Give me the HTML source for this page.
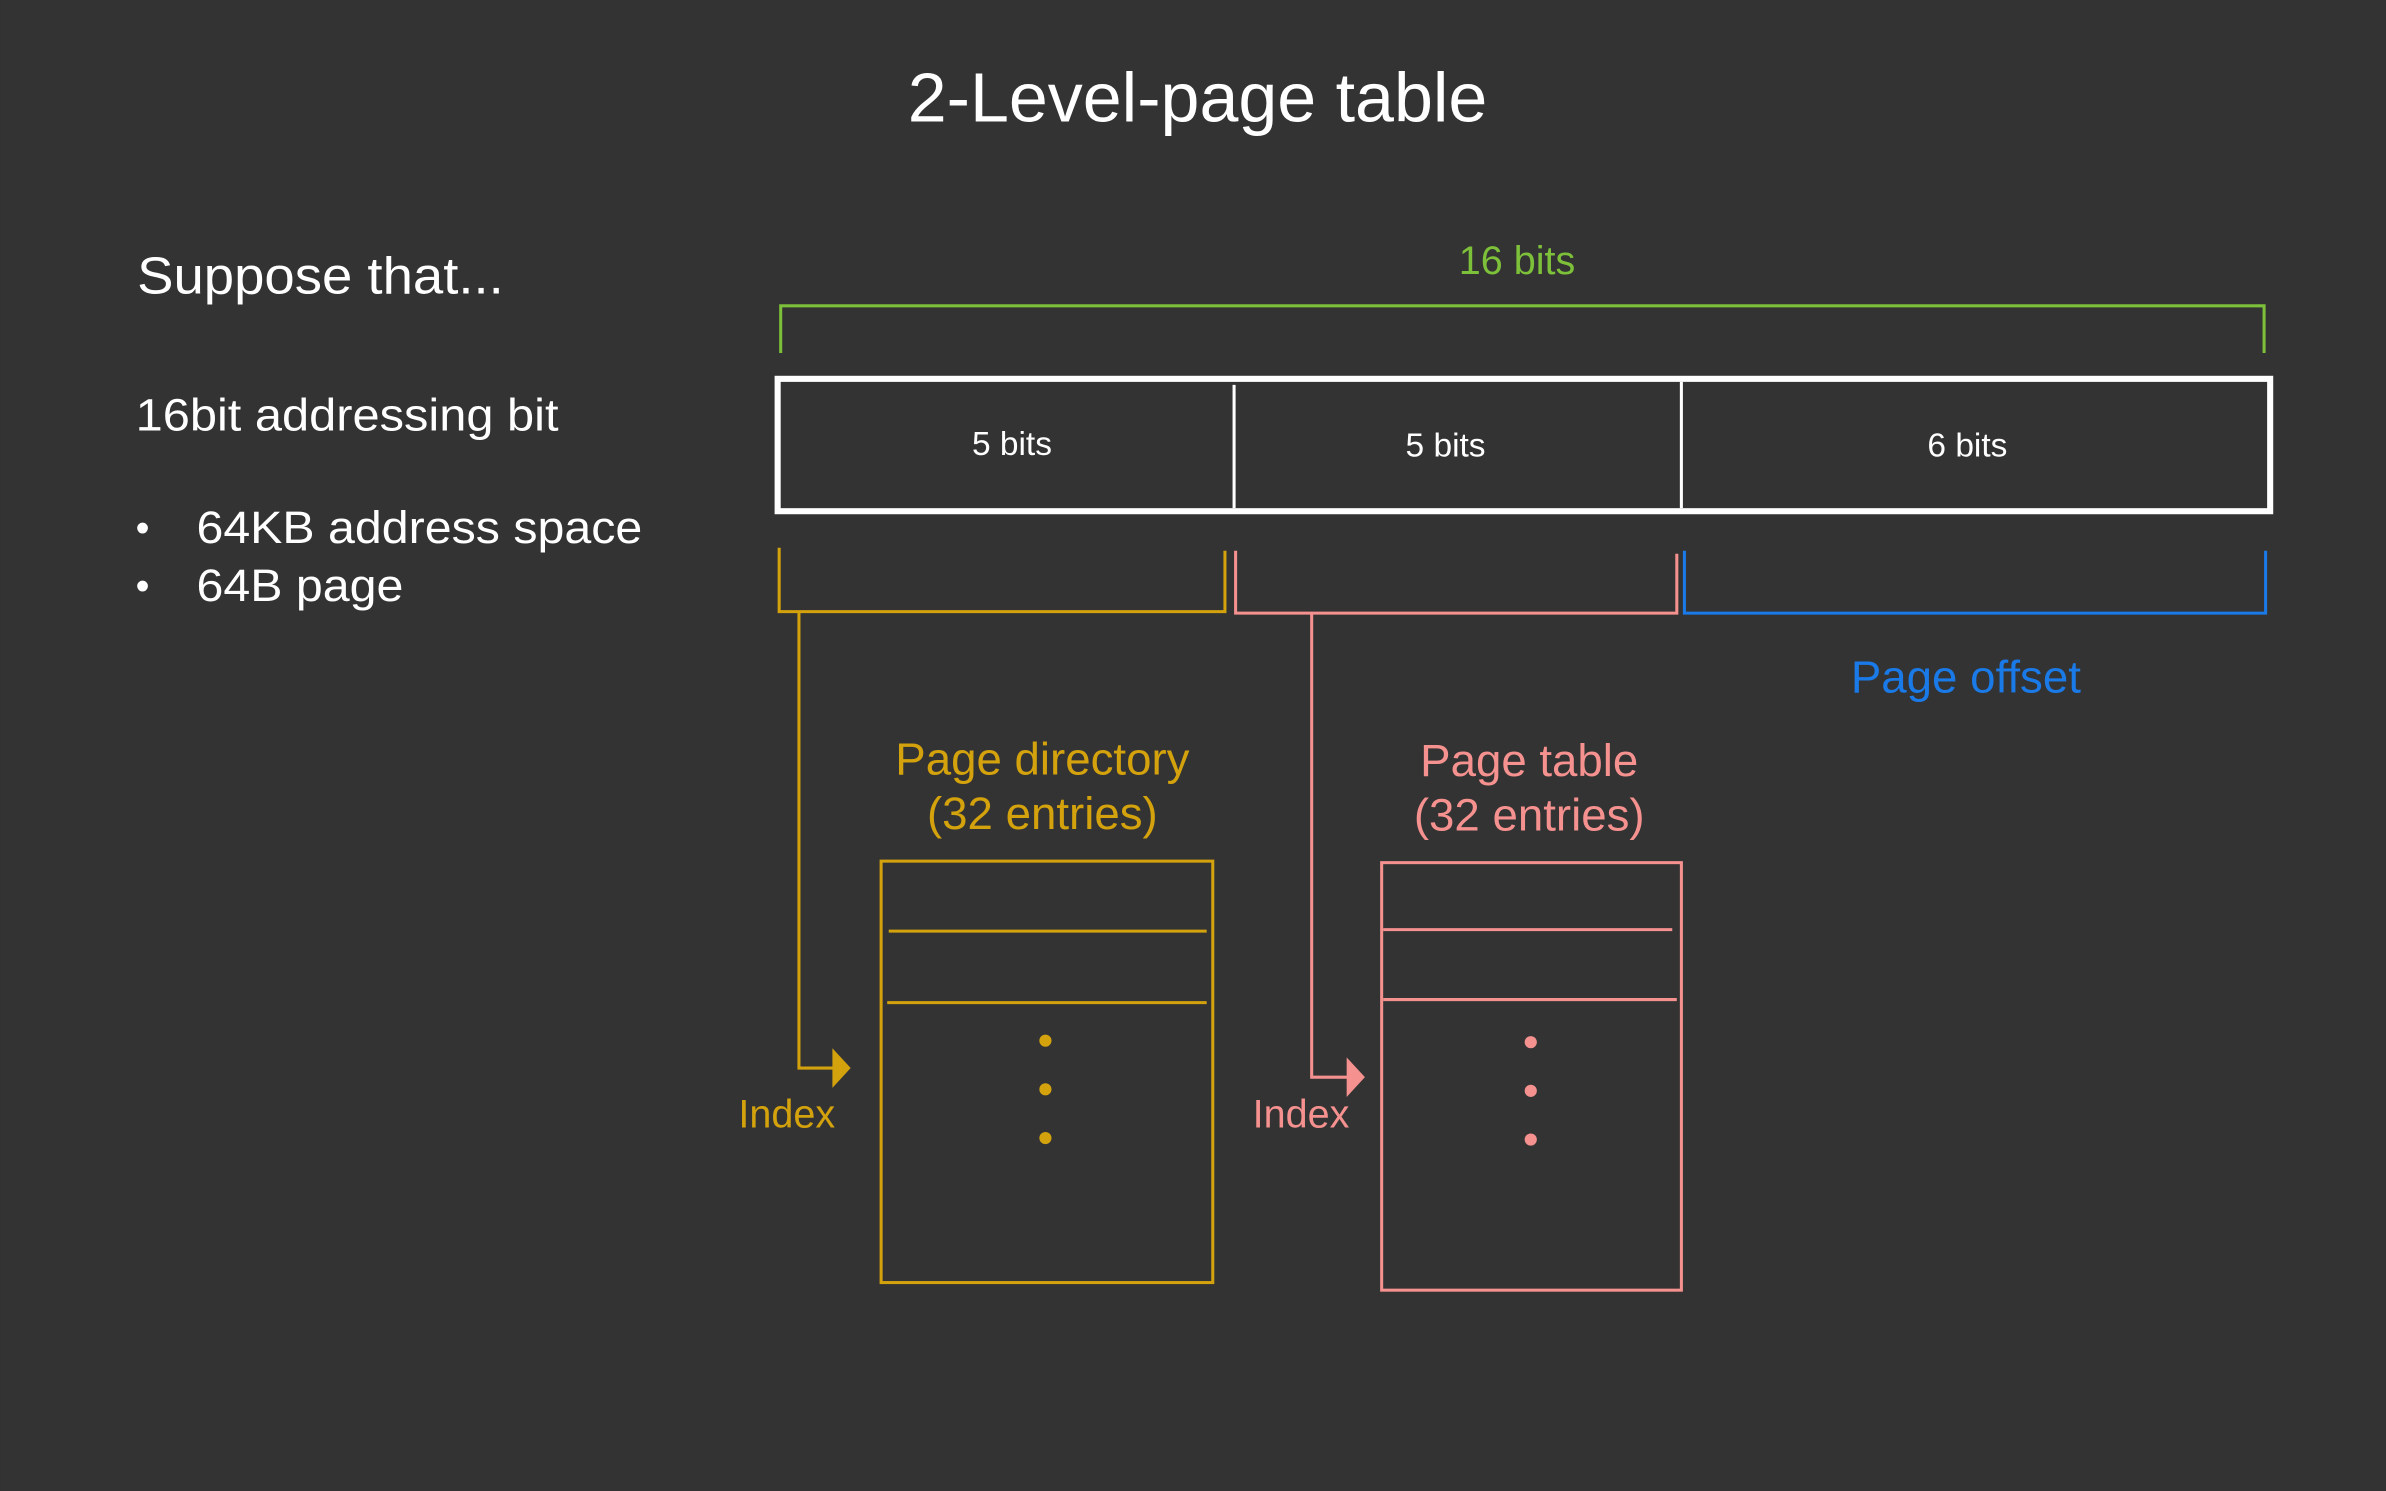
<!DOCTYPE html>
<html><head><meta charset="utf-8"><style>
html,body{margin:0;padding:0;background:#333333;}
svg{display:block;}
text{font-family:"Liberation Sans",Arial,sans-serif;}
</style></head><body>
<svg width="2386" height="1491" viewBox="0 0 1568 980" xmlns="http://www.w3.org/2000/svg">
<rect width="1568" height="980" fill="#333333"/>
<text x="787" y="80" font-size="46" fill="#ffffff" text-anchor="middle">2-Level-page table</text>
<text x="90" y="193" font-size="34" fill="#ffffff" textLength="241" lengthAdjust="spacingAndGlyphs">Suppose that...</text>
<text x="89" y="283" font-size="30" fill="#ffffff" textLength="278" lengthAdjust="spacingAndGlyphs">16bit addressing bit</text>
<text x="89" y="356" font-size="26" fill="#ffffff">•</text>
<text x="129" y="357" font-size="30" fill="#ffffff" textLength="293" lengthAdjust="spacingAndGlyphs">64KB address space</text>
<text x="89" y="394" font-size="26" fill="#ffffff">•</text>
<text x="129" y="395" font-size="30" fill="#ffffff" textLength="136" lengthAdjust="spacingAndGlyphs">64B page</text>

<text x="997" y="180" font-size="26" fill="#7dc03a" text-anchor="middle">16 bits</text>
<path d="M513 232 V201 H1488 V232" fill="none" stroke="#7dc03a" stroke-width="2"/>

<rect x="511" y="249" width="981" height="87" fill="none" stroke="#ffffff" stroke-width="4"/>
<line x1="811" y1="253" x2="811" y2="334" stroke="#ffffff" stroke-width="2"/>
<line x1="1105" y1="251" x2="1105" y2="334" stroke="#ffffff" stroke-width="2"/>
<text x="665" y="299" font-size="22" fill="#ffffff" text-anchor="middle">5 bits</text>
<text x="950" y="300" font-size="22" fill="#ffffff" text-anchor="middle">5 bits</text>
<text x="1293" y="300" font-size="22" fill="#ffffff" text-anchor="middle">6 bits</text>

<path d="M512 360 V402 H805 V362" fill="none" stroke="#d4a20c" stroke-width="2"/>
<path d="M525 402 V702 H548" fill="none" stroke="#d4a20c" stroke-width="2"/>
<polygon points="547,689 559,702 547,715" fill="#d4a20c"/>
<text x="517" y="741" font-size="26" fill="#d4a20c" text-anchor="middle">Index</text>

<path d="M812 362 V403 H1102 V364" fill="none" stroke="#f5918f" stroke-width="2"/>
<path d="M862 403 V708 H886" fill="none" stroke="#f5918f" stroke-width="2"/>
<polygon points="885,695 897,708 885,721" fill="#f5918f"/>
<text x="855" y="741" font-size="26" fill="#f5918f" text-anchor="middle">Index</text>

<path d="M1107 362 V403 H1489 V362" fill="none" stroke="#1a7ae8" stroke-width="2"/>
<text x="1292" y="455" font-size="30" fill="#1a7ae8" text-anchor="middle">Page offset</text>

<text x="685" y="509" font-size="30" fill="#d4a20c" text-anchor="middle">Page directory</text>
<text x="685" y="545" font-size="30" fill="#d4a20c" text-anchor="middle">(32 entries)</text>
<rect x="579" y="566" width="218" height="277" fill="none" stroke="#d4a20c" stroke-width="2"/>
<line x1="584" y1="612" x2="793" y2="612" stroke="#d4a20c" stroke-width="2"/>
<line x1="583" y1="659" x2="793" y2="659" stroke="#d4a20c" stroke-width="2"/>
<circle cx="687" cy="684" r="4" fill="#d4a20c"/>
<circle cx="687" cy="716" r="4" fill="#d4a20c"/>
<circle cx="687" cy="748" r="4" fill="#d4a20c"/>

<text x="1005" y="510" font-size="30" fill="#f5918f" text-anchor="middle">Page table</text>
<text x="1005" y="546" font-size="30" fill="#f5918f" text-anchor="middle">(32 entries)</text>
<rect x="908" y="567" width="197" height="281" fill="none" stroke="#f5918f" stroke-width="2"/>
<line x1="909" y1="611" x2="1099" y2="611" stroke="#f5918f" stroke-width="2"/>
<line x1="909" y1="657" x2="1102" y2="657" stroke="#f5918f" stroke-width="2"/>
<circle cx="1006" cy="685" r="4" fill="#f5918f"/>
<circle cx="1006" cy="717" r="4" fill="#f5918f"/>
<circle cx="1006" cy="749" r="4" fill="#f5918f"/>
</svg>
</body></html>
